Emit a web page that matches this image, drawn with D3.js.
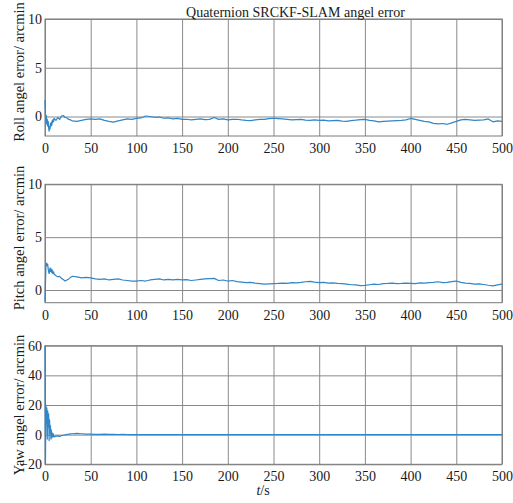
<!DOCTYPE html>
<html>
	<head>
		<meta charset="utf-8">
		<title>Quaternion SRCKF-SLAM angel error</title>
		<style>
			body { margin: 0; background: #fff; }
			#myGraph text { font-family: "Liberation Serif", "Times New Roman", serif; fill: #1a1a1a; }
			#myGraph .grid line { stroke: #8a8a8a; stroke-width: 1px; }
			#myGraph .frame { fill: none; stroke: #7a7a7a; stroke-width: 1px; }
			#myGraph .curve { fill: none; stroke: #2f86c8; stroke-width: 1.2px; stroke-linejoin: round; }
		</style>
		<script src="https://d3js.org/d3.v7.min.js" charset="utf-8"></script>
	</head>
	<body>
		<svg id="myGraph" width="513" height="503"></svg>
		<script>
		// time axis (s)
		var time = [0, 0.5, 1, 1.5, 2, 2.5, 3, 3.5, 4, 4.5,
			5, 5.5, 6, 6.5, 7, 7.5, 8, 8.5, 9, 9.5,
			10, 12, 14, 16, 18, 20, 22, 24, 26, 28,
			30, 35, 40, 45, 50, 55, 60, 65, 70, 75,
			80, 85, 90, 95, 100, 105, 110, 115, 120, 125,
			130, 135, 140, 145, 150, 155, 160, 165, 170, 175,
			180, 185, 190, 195, 200, 205, 210, 215, 220, 225,
			230, 235, 240, 245, 250, 255, 260, 265, 270, 275,
			280, 285, 290, 295, 300, 305, 310, 315, 320, 325,
			330, 335, 340, 345, 350, 355, 360, 365, 370, 375,
			380, 385, 390, 395, 400, 405, 410, 415, 420, 425,
			430, 435, 440, 445, 450, 455, 460, 465, 470, 475,
			480, 485, 490, 495, 500];

		// roll angle error (arcmin)
		var roll = [1.7, 0.0, -0.6, 0.1, -0.8, -0.3, -1.0, -0.5, -1.2, -1.5,
			-1.0, -1.3, -0.7, -1.0, -0.6, -0.9, -0.4, -0.6, -0.3, -0.5,
			-0.2, -0.4, -0.1, -0.3, 0.05, 0.1, -0.1, -0.15, -0.3, -0.35,
			-0.45, -0.5, -0.4, -0.3, -0.25, -0.3, -0.25, -0.4, -0.5, -0.58,
			-0.45, -0.35, -0.25, -0.3, -0.2, -0.15, 0.05, 0.0, -0.08, -0.05,
			-0.18, -0.15, -0.25, -0.2, -0.3, -0.28, -0.35, -0.3, -0.25, -0.32,
			-0.3, -0.1, -0.3, -0.25, -0.35, -0.3, -0.28, -0.35, -0.4, -0.42,
			-0.35, -0.3, -0.3, -0.22, -0.18, -0.22, -0.25, -0.3, -0.35, -0.32,
			-0.3, -0.38, -0.4, -0.35, -0.4, -0.38, -0.45, -0.42, -0.4, -0.48,
			-0.5, -0.42, -0.38, -0.32, -0.3, -0.4, -0.45, -0.55, -0.5, -0.48,
			-0.45, -0.42, -0.4, -0.35, -0.2, -0.3, -0.4, -0.5, -0.55, -0.7,
			-0.75, -0.72, -0.8, -0.65, -0.5, -0.35, -0.3, -0.35, -0.4, -0.38,
			-0.35, -0.25, -0.55, -0.45, -0.5];

		// pitch angle error (arcmin)
		var pitch = [-1.1, 0.6, 2.2, 2.5, 2.55, 2.3, 2.4, 2.0, 1.7, 1.55,
			1.8, 2.1, 1.75, 2.0, 1.7, 1.95, 1.6, 1.8, 1.55, 1.7,
			1.5, 1.35, 1.25, 1.3, 1.1, 1.0, 0.85, 0.95, 1.05, 1.2,
			1.3, 1.25, 1.15, 1.2, 1.15, 1.05, 1.0, 1.05, 0.95, 1.0,
			1.05, 0.95, 0.9, 0.85, 0.85, 0.9, 0.85, 0.95, 1.0, 1.05,
			0.95, 1.0, 0.95, 1.0, 0.95, 0.98, 0.9, 0.95, 1.0, 1.05,
			1.08, 1.1, 0.9, 0.95, 0.85, 0.9, 0.8, 0.75, 0.7, 0.72,
			0.65, 0.6, 0.55, 0.58, 0.6, 0.62, 0.65, 0.62, 0.7, 0.68,
			0.72, 0.78, 0.82, 0.75, 0.7, 0.72, 0.65, 0.68, 0.62, 0.6,
			0.55, 0.5, 0.48, 0.42, 0.44, 0.5, 0.55, 0.52, 0.6, 0.62,
			0.65, 0.6, 0.62, 0.65, 0.63, 0.6, 0.68, 0.65, 0.7, 0.72,
			0.78, 0.7, 0.72, 0.8, 0.85, 0.72, 0.65, 0.62, 0.55, 0.58,
			0.52, 0.45, 0.4, 0.48, 0.55];

		// yaw angle error (arcmin)
		var yaw = [60, -20, 20, 8, 18, -3, 16, 5, 14, -4,
			10, 1, 6, -3, 3, -2, 1, -1.5, 0.5, -1,
			-1.5, -1, -0.8, -1.2, -0.6, -0.4, -0.2, 0.2, 0.3, 0.5,
			0.6, 0.8, 0.6, 0.4, 0.3, 0.25, 0.2, 0.3, 0.15, 0.2,
			0.1, 0.15, 0.1, 0.05, 0.1, 0, 0.1, 0.05, 0, 0.1,
			0.05, -0.05, 0, 0.05, 0.1, 0, -0.05, 0.05, 0, 0.05,
			-0.05, 0, 0.05, 0, -0.05, 0.05, 0, -0.05, 0.05, 0,
			0, 0.05, -0.05, 0, 0.05, 0, -0.05, 0.05, 0, 0,
			0.05, 0, -0.05, 0.05, 0, 0, 0.05, -0.05, 0, 0.05,
			0, -0.05, 0.05, 0, 0, 0.05, -0.05, 0, 0.05, 0,
			0, 0.05, -0.05, 0, 0.05, 0, -0.05, 0.05, 0, 0,
			0.05, 0, -0.05, 0.05, 0, 0, 0.05, -0.05, 0, 0.05,
			0, -0.05, 0.05, 0, 0];

		// tick labels
		var xTicks = [0, 50, 100, 150, 200, 250, 300, 350, 400, 450, 500];
		var smallTicks = [0, 5, 10];
		var yawTicks = [-20, 0, 20, 40, 60];
		var yLabels = ["Roll angel error/ arcmin", "Pitch angel error/ arcmin", "Yaw angel error/ arcmin"];

		var serif = "'Liberation Serif', 'Times New Roman', serif";

		// panel layout
		var left = 45, right = 502;
		var panels = [
			{ values: roll, top: 19, bottom: 136, domain: [-2, 10], ticks: smallTicks, label: yLabels[0], labelY: 72 },
			{ values: pitch, top: 184.3, bottom: 302.7, domain: [-1.2, 10], ticks: smallTicks, label: yLabels[1], labelY: 238 },
			{ values: yaw, top: 345.7, bottom: 464.3, domain: [-20, 60], ticks: yawTicks, label: yLabels[2], labelY: 405 }
		];

		var svg = d3.select("#myGraph");
		var xScale = d3.scaleLinear().domain([0, 500]).range([left, right]);

		panels.forEach(function(p, k){
			var yScale = d3.scaleLinear().domain(p.domain).range([p.bottom, p.top]);
			var h = p.bottom - p.top;

			// vertical grid + x tick labels
			var gx = svg.append("g")
				.attr("class", "grid")
				.attr("transform", "translate(0," + p.bottom + ")")
				.call(d3.axisBottom(xScale).tickValues(xTicks).tickSize(-h).tickPadding(0));
			gx.attr("font-family", serif).attr("font-size", 14);
			gx.select(".domain").remove();
			gx.selectAll("text")
				.attr("y", 7)
				.attr("dy", "0.71em");

			// horizontal grid + y tick labels
			var gy = svg.append("g")
				.attr("class", "grid")
				.attr("transform", "translate(" + left + ",0)")
				.call(d3.axisLeft(yScale).tickValues(p.ticks).tickSize(-(right - left)).tickPadding(3));
			gy.attr("font-family", serif).attr("font-size", 14);
			gy.select(".domain").remove();

			// frame
			svg.append("rect")
				.attr("class", "frame")
				.attr("x", left)
				.attr("y", p.top)
				.attr("width", right - left)
				.attr("height", h);

			// data line
			var line = d3.line()
				.x(function(d, i){ return xScale(time[i]); })
				.y(function(d){ return yScale(d); });
			svg.append("path")
				.datum(p.values)
				.attr("class", "curve")
				.attr("d", line);

			// y axis title
			svg.append("text")
				.attr("transform", "translate(24," + p.labelY + ") rotate(-90)")
				.attr("text-anchor", "middle")
				.attr("font-family", serif)
				.style("font-size", "14.5px")
				.text(p.label);
		});

		// title
		svg.append("text")
			.attr("x", 295.5)
			.attr("y", 17)
			.attr("text-anchor", "middle")
			.attr("font-family", serif)
			.style("font-size", "14px")
			.text("Quaternion SRCKF-SLAM angel error");

		// x axis title
		var xt = svg.append("text")
			.attr("x", 263)
			.attr("y", 495)
			.attr("text-anchor", "middle")
			.attr("font-family", serif)
			.style("font-size", "14px");
		xt.append("tspan").style("font-style", "italic").text("t");
		xt.append("tspan").text("/s");
		</script>
	</body>
</html>
